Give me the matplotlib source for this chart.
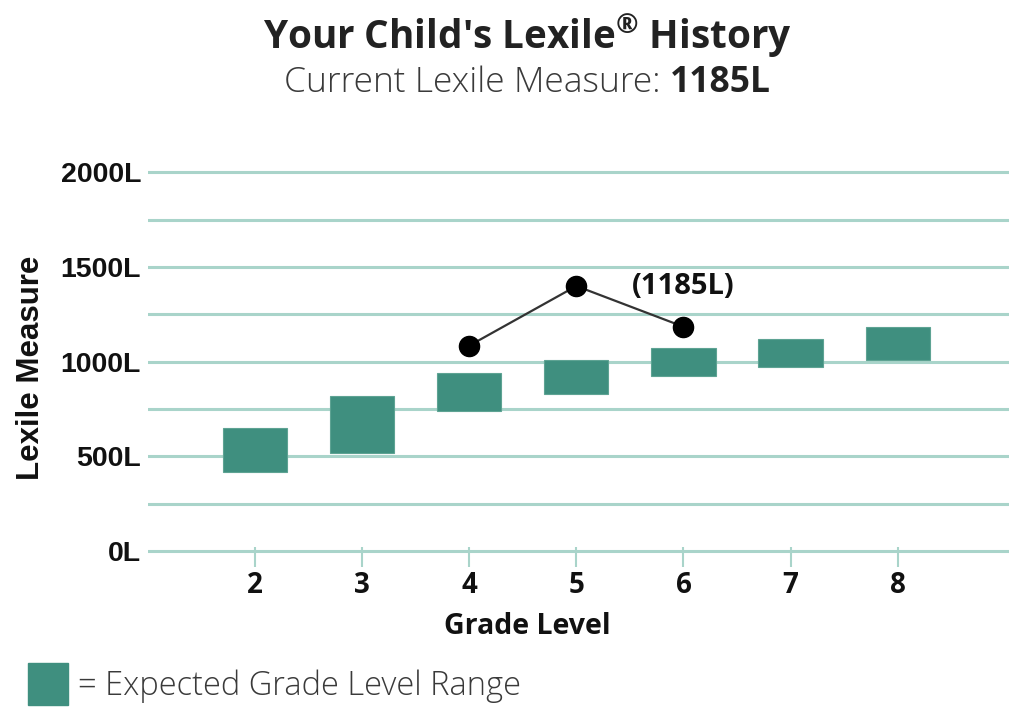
import matplotlib
matplotlib.use("Agg")
import matplotlib.pyplot as plt
import numpy as np

# ---- data ----
grades = [2, 3, 4, 5, 6, 7, 8]
range_low = [420, 520, 740, 830, 925, 970, 1010]
range_high = [650, 820, 940, 1010, 1070, 1120, 1185]
student_grades = [4, 5, 6]
student_lexile = [1085, 1400, 1185]
y_ticks = [0, 500, 1000, 1500, 2000]
y_ticklabels = ["0L", "500L", "1000L", "1500L", "2000L"]
grid_levels = [0, 250, 500, 750, 1000, 1250, 1500, 1750, 2000]
current_label = "(1185L)"
current_measure = "1185L"

BOX = "#3f8f7f"
GRID = "#a9d4ca"
W, H = 1013, 707

plt.rcParams["mathtext.fontset"] = "custom"
plt.rcParams["mathtext.rm"] = "Open Sans"
plt.rcParams["mathtext.bf"] = "Open Sans:bold"

fig = plt.figure(figsize=(W / 100, H / 100), dpi=100)
fig.patch.set_facecolor("white")

ax_left, ax_right = 148 / W, 1009 / W
ax = fig.add_axes([ax_left, 0.2126, ax_right - ax_left, 0.5515])
ax.set_xlim(1, 9.04)
ax.set_ylim(-30, 2030)
for s in ax.spines.values():
    s.set_visible(False)

for g in grid_levels:
    ax.axhline(g, color=GRID, lw=2.2, zorder=1)

heights = [h - l for l, h in zip(range_low, range_high)]
ax.bar(grades, heights, bottom=range_low, width=0.6, color=BOX,
       edgecolor="#5ea393", linewidth=0.8, zorder=2)

ax.plot(student_grades, student_lexile, color="#333333", lw=1.6, zorder=3)
ax.plot(student_grades, student_lexile, "o", color="black", ms=14.5, zorder=4)

ax.annotate(current_label, xy=(student_grades[-1], student_lexile[-1]),
            xytext=(0, 29), textcoords="offset points", ha="center", va="center",
            fontsize=21, fontweight="bold", family="Open Sans", color="#111111")

ax.set_xticks(grades)
ax.set_xticklabels([str(g) for g in grades], family="Open Sans",
                   fontweight="bold", fontsize=20, color="#111111")
ax.tick_params(axis="x", direction="inout", length=14, width=1.5, color=GRID, pad=3)

ax.set_yticks(y_ticks)
ax.set_yticklabels(y_ticklabels, family="Liberation Sans", fontweight="bold",
                   fontsize=20.5, color="#111111")
ax.tick_params(axis="y", length=0, pad=5)

# x label centered under the title (figure coordinate)
fig.text(527 / W, 1 - 627 / H, "Grade Level", ha="center", va="center",
         family="Open Sans", fontweight="bold", fontsize=20.5, color="#111111")
fig.text(31 / W, 1 - 368 / H, "Lexile Measure", ha="center", va="center",
         rotation=90, family="Liberation Sans", fontweight="bold",
         fontsize=22.5, color="#111111")

# title
fig.text(527 / W, 1 - 35 / H, "Your Child's Lexile$^{\\mathbf{®}}$ History",
         ha="center", va="center", family="Open Sans", fontweight="bold",
         fontsize=27.8, color="#222222")

# subtitle: regular + bold part, centered together
t1 = fig.text(0, 1 - 83 / H, "Current Lexile Measure: ", ha="left", va="center",
              family="Open Sans", fontweight="light", fontsize=25.5, color="#3a3a3a")
t2 = fig.text(0, 1 - 83 / H, current_measure, ha="left", va="center",
              family="Open Sans", fontweight="bold", fontsize=25.5, color="#222222")
fig.canvas.draw()
r = fig.canvas.get_renderer()
w1 = t1.get_window_extent(r).width
w2 = t2.get_window_extent(r).width
start = 527 - (w1 + w2) / 2
t1.set_x(start / W)
t2.set_x((start + w1) / W)

# legend
fig.patches.append(matplotlib.patches.Rectangle((28 / W, 1 - 705 / H), 40 / W, 42 / H,
                                                transform=fig.transFigure,
                                                color=BOX, zorder=5))
fig.text(78 / W, 1 - 686 / H, "= Expected Grade Level Range", ha="left",
         va="center", family="Open Sans", fontweight="light", fontsize=23.5,
         color="#3a3a3a")

fig.savefig("out.png", dpi=100)
